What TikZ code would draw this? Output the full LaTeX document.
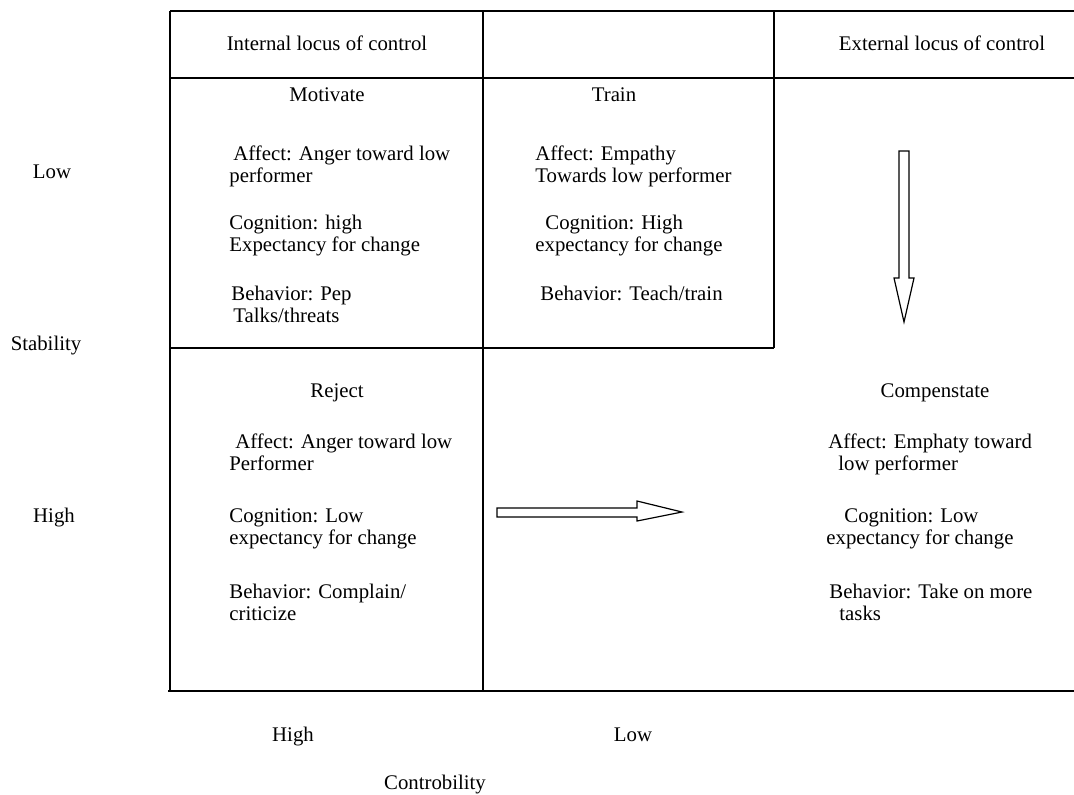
\documentclass[tikz,border=0pt]{standalone}
\usepackage{fontspec}
\setmainfont{Liberation Serif}
\usepackage{tikz}

\tikzset{
  lbl/.style={inner sep=0pt, text height=7pt, text depth=2pt, font=\fontsize{10.4}{11}\selectfont},
  txt/.style={anchor=north west, inner sep=0pt, align=left, font=\fontsize{10.4}{11}\selectfont},
  gridline/.style={line width=0.8pt},
  blockarrow/.style={draw, line width=0.6pt, fill=white, line join=miter}
}

\begin{document}
\begin{tikzpicture}[x=0.5pt, y=-0.5pt]
\useasboundingbox (0,0) rectangle (1074,794);
% table lines
\draw[gridline] (170,11) -- (1074,11);
\draw[gridline] (170,78) -- (1074,78);
\draw[gridline] (170,348) -- (774,348);
\draw[gridline] (168,691) -- (1074,691);
\draw[gridline] (170,11) -- (170,691);
\draw[gridline] (483,11) -- (483,691);
\draw[gridline] (774,11) -- (774,348);
% headings
\node[lbl] (intlocus) at (327,45) {Internal locus of control};
\node[lbl] (extlocus) at (942,45) {External locus of control};
% motivate
\node[lbl] (motivate) at (327,96) {Motivate};
\node[txt] (mot-aff) at (229,145) {\hspace*{2pt}Affect: Anger toward low\\performer};
\node[txt] (mot-cog) at (229,215) {Cognition: high\\Expectancy for change};
\node[txt] (mot-beh) at (231,286) {Behavior: Pep\\\hspace*{1pt}Talks/threats};
% train
\node[lbl] (train) at (614,96) {Train};
\node[txt] (trn-aff) at (535,145) {Affect: Empathy\\Towards low performer};
\node[txt] (trn-cog) at (535,215) {\hspace*{5pt}Cognition: High\\expectancy for change};
\node[txt] (trn-beh) at (540,286) {Behavior: Teach/train};
% reject
\node[lbl] (reject) at (337,392) {Reject};
\node[txt] (rej-aff) at (229,433) {\hspace*{3pt}Affect: Anger toward low\\Performer};
\node[txt] (rej-cog) at (229,508) {Cognition: Low\\expectancy for change};
\node[txt] (rej-beh) at (229,584) {Behavior: Complain/\\criticize};
% compensate
\node[lbl] (compens) at (935,392) {Compenstate};
\node[txt] (cmp-aff) at (828,433) {Affect: Emphaty toward\\\hspace*{5pt}low performer};
\node[txt] (cmp-cog) at (826,508) {\hspace*{9pt}Cognition: Low\\expectancy for change};
\node[txt] (cmp-beh) at (829,584) {Behavior: Take on more\\\hspace*{5pt}tasks};
% arrows
\draw[blockarrow] (899,151) -- (909,151) -- (909,278) -- (914,278) -- (904,322)
  -- (894,278) -- (899,278) -- cycle;
\draw[blockarrow] (497,508) -- (637,508) -- (637,501) -- (682,512) -- (637,521)
  -- (637,517) -- (497,517) -- cycle;
% axes
\node[lbl] (stab-low) at (52,173) {Low};
\node[lbl] (stability) at (46,345) {Stability};
\node[lbl] (stab-high) at (54,517) {High};
\node[lbl] (ctrl-high) at (293,736) {High};
\node[lbl] (ctrl-low) at (633,736) {Low};
\node[lbl] (ctrl) at (435,784) {Controbility};
\end{tikzpicture}
\end{document}
